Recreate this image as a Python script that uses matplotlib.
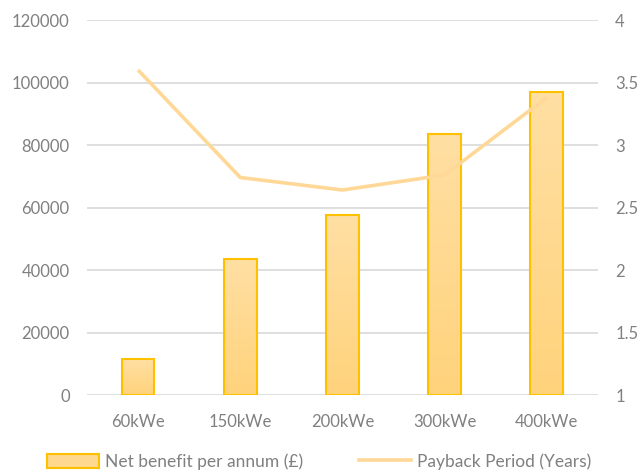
import numpy as np
import matplotlib
matplotlib.use("Agg")
import matplotlib.pyplot as plt
from matplotlib.lines import Line2D
from matplotlib.patches import Patch

# datos
categorias = ["60kWe", "150kWe", "200kWe", "300kWe", "400kWe"]
beneficio_neto = [11500, 43500, 57600, 83500, 97000]
periodo_retorno = [3.60, 2.74, 2.64, 2.76, 3.38]

COLOR_BORDE = "#FFC000"
COLOR_LINEA = "#FFD898"
COLOR_TEXTO = "#808080"
COLOR_GRID = "#D9D9D9"

plt.rcParams["font.family"] = ["Lato", "DejaVu Sans"]

fig = plt.figure(figsize=(6.38, 4.73), dpi=100)
ax = fig.add_axes([0.1364, 0.1649, 0.8006, 0.7928])
x = np.arange(len(categorias))

barras = ax.bar(x, beneficio_neto, width=0.32, color="#FFD88F",
                edgecolor=COLOR_BORDE, linewidth=1.5, zorder=2)

# degradado suave dentro de cada barra
grad = np.linspace(0, 1, 64).reshape(-1, 1)
cmap = matplotlib.colors.LinearSegmentedColormap.from_list(
    "g", ["#FFD37C", "#FFDFA3"])
for b in barras:
    x0, y0 = b.get_x(), b.get_y()
    im = ax.imshow(grad, extent=[x0, x0 + b.get_width(), y0, y0 + b.get_height()],
                   origin="lower", cmap=cmap, aspect="auto", zorder=2.1)
    im.set_clip_path(b)
    b.set_facecolor("none")
    b.set_zorder(2.2)

ax.set_xlim(-0.5, len(categorias) - 0.5)
ax.set_ylim(0, 120000)
ax.set_yticks(range(0, 120001, 20000))
ax.set_xticks(x)
ax.set_xticklabels(categorias)
ax.grid(axis="y", color=COLOR_GRID, linewidth=1.2, zorder=0)
ax.set_axisbelow(True)
for s in ax.spines.values():
    s.set_visible(False)
ax.tick_params(axis="both", length=0, colors=COLOR_TEXTO, labelsize=12)
ax.tick_params(axis="y", pad=12.5)
ax.tick_params(axis="x", pad=13.5)

ax2 = ax.twinx()
ax2.plot(x, periodo_retorno, color=COLOR_LINEA, linewidth=2.6, zorder=3,
         solid_capstyle="butt")
ax2.set_ylim(1, 4)
ax2.set_yticks([1, 1.5, 2, 2.5, 3, 3.5, 4])
ax2.set_yticklabels(["1", "1.5", "2", "2.5", "3", "3.5", "4"])
for s in ax2.spines.values():
    s.set_visible(False)
ax2.tick_params(axis="y", length=0, colors=COLOR_TEXTO, labelsize=12, pad=12.5)

manejadores = [
    Patch(facecolor="#FFD88F", edgecolor=COLOR_BORDE, linewidth=1.5),
    Line2D([0], [0], color=COLOR_LINEA, linewidth=2.6),
]
etiquetas = ["Net benefit per annum (£)", "Payback Period (Years)"]
fig.legend(manejadores, etiquetas, loc="center", bbox_to_anchor=(0.5, 0.024),
           ncol=2, frameon=False, fontsize=12.5, labelcolor=COLOR_TEXTO,
           handlelength=3.0, handleheight=0.9, columnspacing=3.2, handletextpad=0.35)

fig.savefig("out.png", dpi=100)
